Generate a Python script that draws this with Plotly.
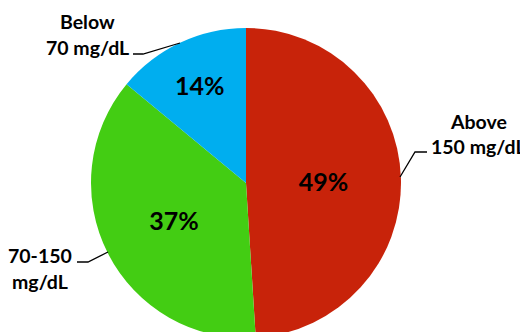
import plotly.graph_objects as go

W, H = 528, 332
OFF = 8  # page body margin offset

categories = ["Above 150 mg/dL", "70-150 mg/dL", "Below 70 mg/dL"]
values = [49, 37, 14]
colors = ["#C8230A", "#43CD13", "#00AEEF"]
label_lines = [["Above", "150 mg/dL"], ["70-150", "mg/dL"], ["Below", "70 mg/dL"]]

cx, cy, r = 246 - OFF, 183 - OFF, 155

fig = go.Figure(go.Pie(
    labels=categories,
    values=values,
    sort=False,
    direction="clockwise",
    rotation=0,
    marker=dict(colors=colors, line=dict(width=0)),
    texttemplate="%{value}%",
    textposition="inside",
    insidetextorientation="horizontal",
    textfont=dict(family="Lato", size=25, color="black", weight="bold"),
    showlegend=False,
    hoverinfo="label+percent",
    domain=dict(x=[(cx - r) / W, (cx + r) / W],
                y=[max(0, 1 - (cy + r) / H), 1 - (cy - r) / H]),
))

def px(x):
    return (x - OFF) / W

def py(y):
    return 1 - (y - OFF) / H

label_pos = [
    [(478, 121), (478, 146)],
    [(40, 255), (40, 281)],
    [(87, 22), (87, 48)],
]
leader_paths = [
    [(427, 152), (415, 152), (400, 177)],
    [(77, 262), (88, 262), (108, 252)],
    [(133, 54), (143, 54), (180, 43)],
]

annotations = []
for lines, positions in zip(label_lines, label_pos):
    for t, (x, y) in zip(lines, positions):
        annotations.append(dict(
            text=t, x=px(x), y=py(y), xref="paper", yref="paper",
            xanchor="center", yanchor="middle", showarrow=False,
            font=dict(family="Lato", size=19.5, color="black", weight="bold"),
        ))

shapes = []
for pts in leader_paths:
    d = "M " + " L ".join(f"{px(x)},{py(y)}" for x, y in pts)
    shapes.append(dict(type="path", path=d, xref="paper", yref="paper",
                       line=dict(color="black", width=1.3)))

fig.update_layout(
    width=W, height=H,
    margin=dict(l=0, r=0, t=0, b=0),
    paper_bgcolor="white",
    plot_bgcolor="white",
    annotations=annotations,
    shapes=shapes,
)

fig.write_html("out.html")
